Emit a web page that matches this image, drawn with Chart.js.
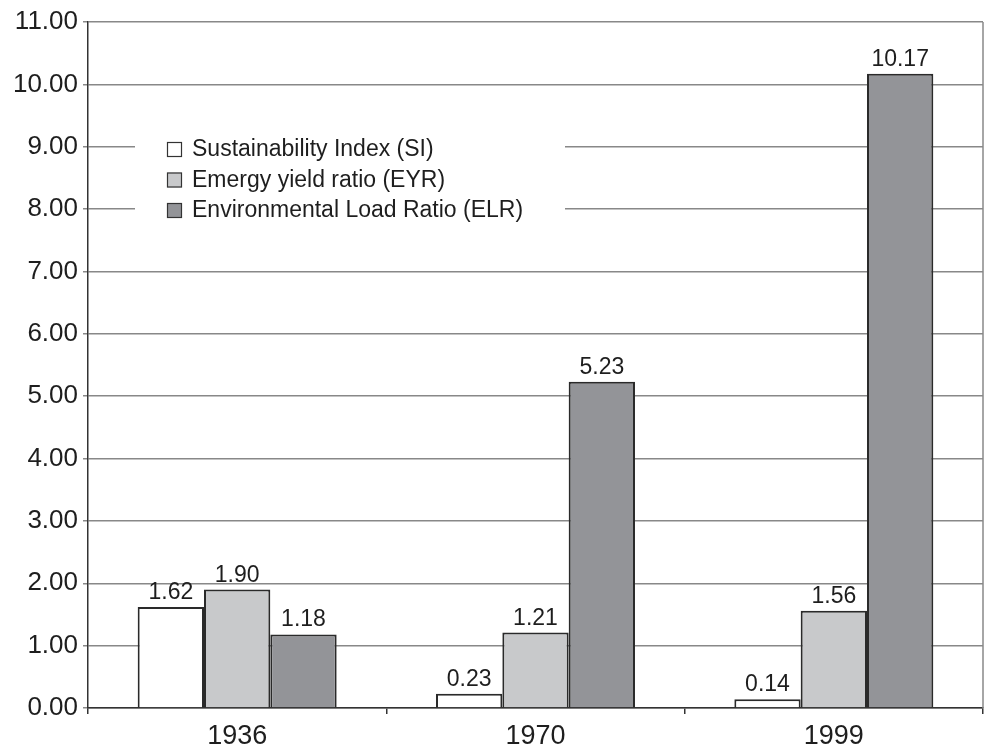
<!DOCTYPE html>
<html>
<head>
<meta charset="utf-8">
<script src="https://cdn.jsdelivr.net/npm/chart.js@4.4.1/dist/chart.umd.min.js"></script>
<style>
  html, body { margin: 0; padding: 0; background: #fff; }
  #wrap { width: 985px; height: 751px; }
</style>
</head>
<body>
<div id="wrap"><canvas id="chart"></canvas></div>
<script>
'use strict';
var years = ['1936', '1970', '1999'];
var siValues = [1.62, 0.23, 0.14];
var eyrValues = [1.90, 1.21, 1.56];
var elrValues = [1.18, 5.23, 10.17];
var seriesNames = ['Sustainability Index (SI)', 'Emergy yield ratio (EYR)', 'Environmental Load Ratio (ELR)'];
var yTicks = [0, 1, 2, 3, 4, 5, 6, 7, 8, 9, 10, 11];

var FONT = '"Liberation Sans", Arial, sans-serif';
var INK = '#1e1e1e';

// value labels over each bar
var valueLabels = {
  id: 'valueLabels',
  afterDatasetsDraw: function(chart) {
    var ctx = chart.ctx;
    ctx.save();
    ctx.font = '23px ' + FONT;
    ctx.fillStyle = INK;
    ctx.textAlign = 'center';
    ctx.textBaseline = 'alphabetic';
    chart.data.datasets.forEach(function(ds, i) {
      chart.getDatasetMeta(i).data.forEach(function(bar, j) {
        ctx.fillText(ds.data[j].toFixed(2), bar.x, bar.y - 8);
      });
    });
    ctx.restore();
  }
};

// legend box sitting inside the plot, plus the right frame line
var boxLegend = {
  id: 'boxLegend',
  afterDatasetsDraw: function(chart) {
    var ctx = chart.ctx, a = chart.chartArea;
    ctx.save();
    ctx.strokeStyle = '#888';
    ctx.lineWidth = 1.5;
    ctx.beginPath();
    ctx.moveTo(a.right, a.top);
    ctx.lineTo(a.right, a.bottom);
    ctx.stroke();

    ctx.fillStyle = '#fff';
    ctx.fillRect(135, 126, 430, 108);
    ctx.font = '23px ' + FONT;
    ctx.textBaseline = 'middle';
    ctx.textAlign = 'left';
    chart.data.datasets.forEach(function(ds, i) {
      var y = 149 + i * 30.5;
      ctx.fillStyle = ds.backgroundColor;
      ctx.fillRect(167, y - 7, 15, 15);
      ctx.strokeStyle = '#333';
      ctx.lineWidth = 1.2;
      ctx.strokeRect(167.5, y - 6.5, 14, 14);
      ctx.fillStyle = INK;
      ctx.fillText(ds.label, 192, y + 1);
    });
    ctx.restore();
  }
};

function makeSet(label, data, color) {
  return {
    label: label,
    data: data,
    backgroundColor: color,
    borderColor: '#2a2a2a',
    borderWidth: 2,
    categoryPercentage: 0.667,
    barPercentage: 1.0
  };
}

new Chart(document.getElementById('chart'), {
  type: 'bar',
  data: {
    labels: years,
    datasets: [
      makeSet(seriesNames[0], siValues, '#ffffff'),
      makeSet(seriesNames[1], eyrValues, '#c8c9cb'),
      makeSet(seriesNames[2], elrValues, '#939498')
    ]
  },
  options: {
    responsive: true,
    maintainAspectRatio: false,
    animation: false,
    layout: { padding: { top: 22, right: 2, left: 0, bottom: 0 } },
    plugins: { legend: { display: false }, tooltip: { enabled: false } },
    scales: {
      x: {
        offset: true,
        afterFit: function(s) { s.height = 43; },
        grid: { drawOnChartArea: false, offset: true, tickLength: 6, color: '#333', lineWidth: 1.5 },
        border: { color: '#333', width: 1.5 },
        ticks: { color: INK, font: { family: FONT, size: 27 }, padding: 6 }
      },
      y: {
        min: 0,
        max: 11,
        afterFit: function(s) { s.width = 88; },
        afterBuildTicks: function(s) { s.ticks = yTicks.map(function(v) { return { value: v }; }); },
        grid: { color: '#888', lineWidth: 1.5, tickLength: 5 },
        border: { color: '#333', width: 1.5 },
        ticks: {
          color: INK,
          font: { family: FONT, size: 26 },
          padding: 5,
          callback: function(v) { return Number(v).toFixed(2); }
        }
      }
    }
  },
  plugins: [valueLabels, boxLegend]
});
</script>
</body>
</html>
